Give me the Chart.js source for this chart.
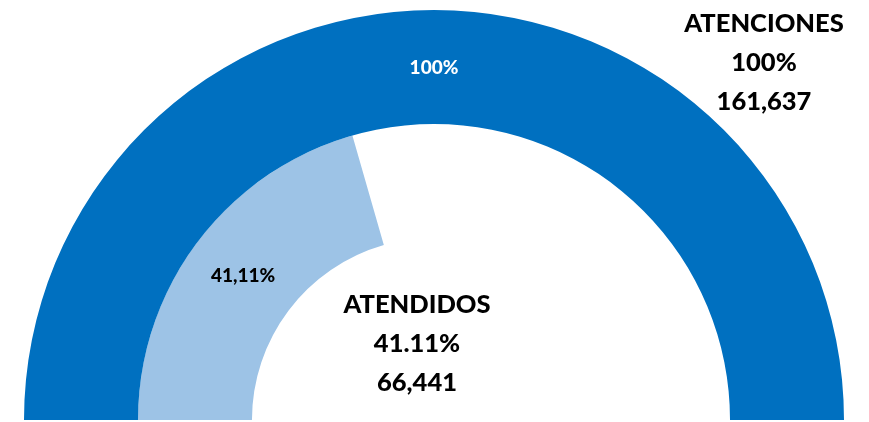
<!DOCTYPE html>
<html>
<head>
<meta charset="utf-8">
<script src="https://cdn.jsdelivr.net/npm/chart.js@4/dist/chart.umd.min.js"></script>
<style>
html,body{margin:0;padding:0;background:#fff;}
#wrap{position:relative;width:869px;height:422px;}
</style>
</head>
<body>
<div id="wrap"><canvas id="c" width="869" height="422"></canvas></div>
<script>
const categories = ["ATENCIONES", "ATENDIDOS"];
const percentValues = [100, 41.11];
const countValues = [161637, 66441];
const ringLabels = ["100%", "41,11%"];
const summaryPercent = ["100%", "41.11%"];

const FONT = "Lato, 'Open Sans', sans-serif";

const labelPlugin = {
  id: 'labels',
  afterDatasetsDraw(chart) {
    const ctx = chart.ctx;
    ctx.save();
    ctx.textAlign = 'center';
    ctx.textBaseline = 'middle';
    const outer = chart.getDatasetMeta(0).data[0];
    const inner = chart.getDatasetMeta(1).data[0];
    const po = outer.tooltipPosition();
    const pi = inner.tooltipPosition();
    ctx.font = "900 19px " + FONT;
    ctx.fillStyle = '#ffffff';
    ctx.fillText(ringLabels[0], po.x, po.y + 1);
    ctx.fillStyle = '#000000';
    ctx.fillText(ringLabels[1], pi.x, pi.y);
    ctx.font = "900 25.5px " + FONT;
    const fmt = v => v.toLocaleString('en-US');
    const blocks = [
      {x: 764, y: 24, lines: [categories[0], summaryPercent[0], fmt(countValues[0])]},
      {x: 417, y: 305, lines: [categories[1], summaryPercent[1], fmt(countValues[1])]}
    ];
    blocks.forEach(b => {
      b.lines.forEach((t, i) => ctx.fillText(t, b.x, b.y + i * 39));
    });
    ctx.restore();
  }
};

new Chart(document.getElementById('c'), {
  type: 'doughnut',
  data: {
    labels: ["valor", "resto"],
    datasets: [
      {
        data: [percentValues[0]],
        backgroundColor: ['#0070C0'],
        borderWidth: 0
      },
      {
        data: [percentValues[1], 100 - percentValues[1]],
        backgroundColor: ['#9DC3E6', 'rgba(0,0,0,0)'],
        borderWidth: 0
      }
    ]
  },
  options: {
    responsive: false,
    animation: false,
    rotation: -90,
    circumference: 180,
    cutout: '44.4%',
    layout: { padding: { top: 10, bottom: 2, left: 24, right: 25 } },
    plugins: { legend: { display: false }, tooltip: { enabled: false } }
  },
  plugins: [labelPlugin]
});
</script>
</body>
</html>
